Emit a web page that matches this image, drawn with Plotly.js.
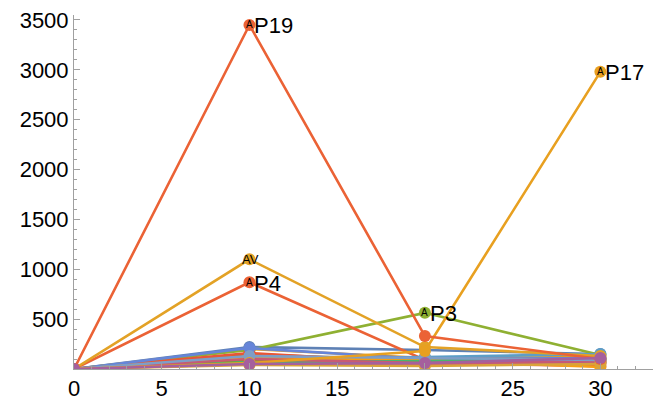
<!DOCTYPE html>
<html>
<head>
<meta charset="utf-8">
<script src="https://cdn.plot.ly/plotly-3.0.1.min.js"></script>
<style>html,body{margin:0;padding:0;background:#fff;}#chart{width:664px;height:403px;}</style>
</head>
<body>
<div id="chart"></div>
<script>
// time points
var times = [0, 10, 20, 30];

// series names, in drawing order
var names = ["P1","P2","P3","P4","P5","P6","P7","P8","P10","P11","P12","P13","P14","P15","P16","P18","P20","AV","P17","P19","P9"];

// series values at each time point
var P1  = [0, 220, 190, 150];
var P2  = [0, 200, 110, 120];
var P3  = [0, 190, 563, 140];
var P4  = [0, 870, 90, 60];
var P5  = [0, 80, 60, 90];
var P6  = [0, 150, 80, 100];
var P7  = [0, 100, 120, 150];
var P8  = [0, 60, 100, 80];
var P10 = [0, 90, 70, 70];
var P11 = [0, 160, 60, 30];
var P12 = [0, 210, 100, 110];
var P13 = [0, 120, 90, 20];
var P14 = [0, 50, 50, 60];
var P15 = [0, 70, 80, 100];
var P16 = [0, 100, 60, 80];
var P18 = [0, 130, 110, 90];
var P20 = [0, 40, 30, 50];
var AV  = [0, 1100, 220, 130];
var P17 = [0, 60, 180, 2980];
var P19 = [0, 3450, 330, 100];
var P9  = [0, 50, 60, 110];

var seriesValues = [P1,P2,P3,P4,P5,P6,P7,P8,P10,P11,P12,P13,P14,P15,P16,P18,P20,AV,P17,P19,P9];

var colors = ["#5E81B5","#E19C24","#8FB032","#EB6235","#8778B3","#C56E1A","#5D9EC7","#FFBF00",
              "#929600","#E95536","#6685D9","#F89F13","#BC5B80","#47B66D","#C85A74","#7E9EC7","#D9A33A",
              "#E3A226","#E8A020","#EB6235","#A5609D"];

// labelled points: [series name, time index, label]
var labelled = [["P19",1,"P19"],["P4",1,"P4"],["P3",2,"P3"],["P17",3,"P17"]];
var avLabel = ["AV",1,"AV"];

var traces = seriesValues.map(function(v,i){
  return {
    x: times, y: v, type: "scatter", mode: "lines+markers", name: names[i],
    line: {color: colors[i], width: 2.6},
    marker: {color: colors[i], size: 12},
    showlegend: false, hoverinfo: "skip"
  };
});

var annotations = [];
labelled.forEach(function(l){
  var v = seriesValues[names.indexOf(l[0])];
  annotations.push({x: times[l[1]], y: v[l[1]], xref:"x", yref:"y", text:"A", showarrow:false,
    font:{family:"Liberation Sans", size:10, color:"#000"}, xanchor:"center", yanchor:"middle"});
  annotations.push({x: times[l[1]], y: v[l[1]], xref:"x", yref:"y", text:l[2], showarrow:false,
    font:{family:"Liberation Sans", size:22, color:"#000"}, xanchor:"left", yanchor:"middle", xshift:3, yshift:-1});
});
(function(){
  var v = seriesValues[names.indexOf(avLabel[0])];
  annotations.push({x: times[avLabel[1]], y: v[avLabel[1]], xref:"x", yref:"y", text:avLabel[2], showarrow:false,
    font:{family:"Liberation Sans", size:13, color:"#000"}, xanchor:"center", yanchor:"middle", xshift:1});
})();

var axisCommon = {
  showgrid:false, zeroline:false, showline:true, linecolor:"#a0a0a0", linewidth:1,
  ticks:"inside", ticklen:6, tickcolor:"#a0a0a0", tickwidth:1,
  tickfont:{family:"Liberation Sans", size:22, color:"#000"}
};

var layout = {
  width:664, height:403,
  margin:{l:74, r:11, t:15, b:34},
  paper_bgcolor:"#fff", plot_bgcolor:"#fff",
  xaxis: Object.assign({}, axisCommon, {range:[0,33], dtick:5, tick0:0,
    minor:{dtick:1, ticks:"inside", ticklen:3, tickcolor:"#a0a0a0", showgrid:false}}),
  yaxis: Object.assign({}, axisCommon, {range:[0,3550], dtick:500, tick0:0,
    tickvals:[500,1000,1500,2000,2500,3000,3500],
    minor:{dtick:100, ticks:"inside", ticklen:3, tickcolor:"#a0a0a0", showgrid:false}}),
  annotations: annotations
};

Plotly.newPlot("chart", traces, layout, {displayModeBar:false, staticPlot:true});
</script>
</body>
</html>
